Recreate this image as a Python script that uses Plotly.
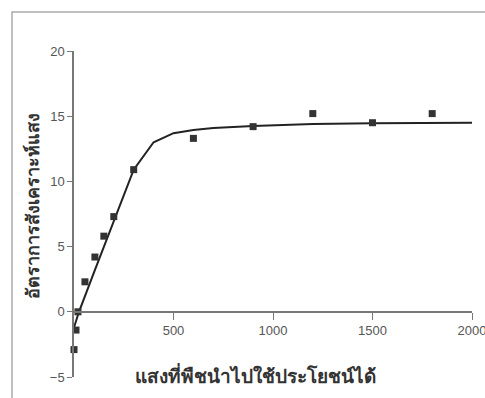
import plotly.graph_objects as go

# measured points: light intensity vs. photosynthesis rate
light = [0, 10, 20, 55, 105, 150, 200, 300, 600, 900, 1200, 1500, 1800]
rate = [-2.9, -1.4, 0.0, 2.3, 4.2, 5.8, 7.3, 10.9, 13.3, 14.2, 15.2, 14.5, 15.2]

# fitted response curve
curve_x = [0, 25, 100, 200, 300, 400, 500, 600, 700, 900, 1200, 1500, 1800, 2000]
curve_y = [-1.2, 0.0, 3.0, 7.0, 10.9, 13.0, 13.7, 13.95, 14.1, 14.25, 14.4, 14.45, 14.5, 14.5]

x_ticks = [500, 1000, 1500, 2000]
y_ticks = [-5, 0, 5, 10, 15, 20]

x_title = "แสงที่พืชนำไปใช้ประโยชน์ได้"
y_title = "อัตราการสังเคราะห์แสง"

W, H = 485, 398
L, R, T, B = 74, 13, 51, 21
pw, ph = W - L - R, H - T - B

fig = go.Figure()
fig.add_trace(go.Scatter(x=curve_x, y=curve_y, mode="lines", cliponaxis=False,
                         line=dict(color="#222222", width=2), hoverinfo="skip"))
fig.add_trace(go.Scatter(x=light, y=rate, mode="markers", cliponaxis=False,
                         marker=dict(symbol="square", size=7, color="#333333")))

tick_font = dict(family="Liberation Sans, Arial, sans-serif", size=13, color="#555555")

fig.update_layout(
    width=W, height=H,
    margin=dict(l=L, r=R, t=T, b=B, autoexpand=False),
    paper_bgcolor="white", plot_bgcolor="white",
    showlegend=False,
    xaxis=dict(range=[0, 2000], tickvals=x_ticks, showgrid=False, zeroline=False,
               showline=True, linecolor="#777777", linewidth=1.5,
               anchor="free", position=0.2, automargin=False,
               ticks="outside", ticklen=7, tickcolor="#777777",
               ticklabeloverflow="allow", tickfont=tick_font),
    yaxis=dict(range=[-5, 20], tickvals=y_ticks, showgrid=False, zeroline=False,
               showline=True, linecolor="#777777", linewidth=1.5, automargin=False,
               ticks="outside", ticklen=5, tickcolor="#777777",
               ticklabeloverflow="allow", tickfont=tick_font),
)

def px_x(p):
    return (p - L) / pw

def px_y(p):
    return (H - B - p) / ph

# outer frame
fig.add_shape(type="rect", xref="paper", yref="paper",
              x0=px_x(12), x1=px_x(492), y0=px_y(404), y1=px_y(12),
              line=dict(color="#aaaaaa", width=1.5), layer="below")

fig.add_annotation(text="<b>" + x_title + "</b>", xref="paper", yref="paper",
                   x=px_x(255), y=px_y(391), showarrow=False,
                   font=dict(family="Noto Sans, sans-serif", size=19, color="#333333"))
fig.add_annotation(text="<b>" + y_title + "</b>", xref="paper", yref="paper",
                   x=px_x(18), y=px_y(206), showarrow=False, textangle=-90,
                   font=dict(family="Noto Sans, sans-serif", size=18, color="#333333"))

fig.write_html("out.html")
